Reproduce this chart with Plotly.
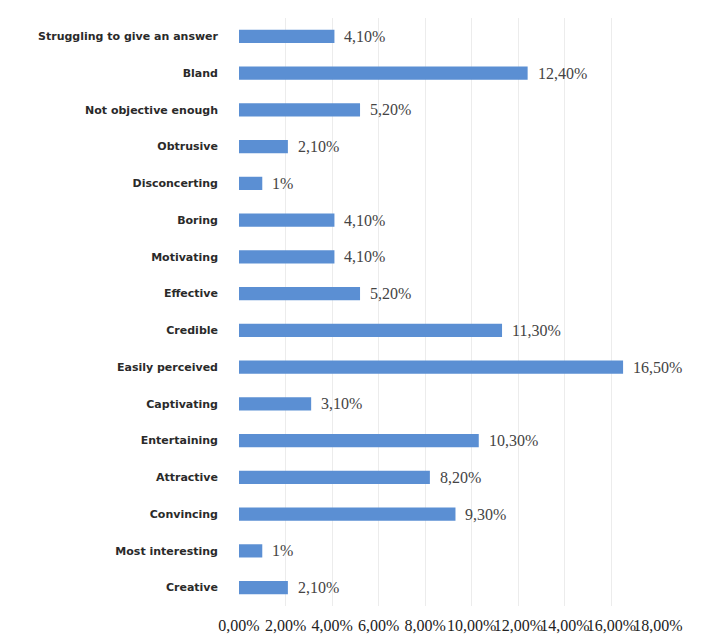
import plotly.graph_objects as go

categories = ["Struggling to give an answer", "Bland", "Not objective enough", "Obtrusive",
              "Disconcerting", "Boring", "Motivating", "Effective", "Credible",
              "Easily perceived", "Captivating", "Entertaining", "Attractive",
              "Convincing", "Most interesting", "Creative"]
values = [4.1, 12.4, 5.2, 2.1, 1.0, 4.1, 4.1, 5.2, 11.3, 16.5, 3.1, 10.3, 8.2, 9.3, 1.0, 2.1]
value_labels = ["4,10%", "12,40%", "5,20%", "2,10%", "1%", "4,10%", "4,10%", "5,20%",
                "11,30%", "16,50%", "3,10%", "10,30%", "8,20%", "9,30%", "1%", "2,10%"]
tick_vals = [0, 2, 4, 6, 8, 10, 12, 14, 16, 18]
tick_labels = ["0,00%", "2,00%", "4,00%", "6,00%", "8,00%", "10,00%", "12,00%",
               "14,00%", "16,00%", "18,00%"]

fig = go.Figure(go.Bar(
    x=values, y=categories, orientation="h",
    marker=dict(color="#5b8fd3", line=dict(width=0)),
    width=0.36,
))

for v, c, t in zip(values, categories, value_labels):
    fig.add_annotation(x=v, y=c, text=t, showarrow=False, xanchor="left", xshift=8,
                       font=dict(family="Liberation Serif", size=16, color="#444444"))

fig.update_layout(
    width=709, height=634,
    margin=dict(l=239, r=51, t=18, b=28),
    plot_bgcolor="white", paper_bgcolor="white",
    showlegend=False,
)
fig.update_xaxes(range=[0, 18], tickvals=tick_vals, ticktext=tick_labels,
                 showgrid=True, gridcolor="#ececec", gridwidth=1, zeroline=False,
                 showline=False, ticks="", ticklabelstandoff=8, tickangle=0,
                 automargin=False,
                 tickfont=dict(family="Liberation Serif", size=16, color="#222222"))
fig.update_yaxes(autorange="reversed", showgrid=False, showline=False, ticks="",
                 ticklabelstandoff=20, automargin=False,
                 tickfont=dict(family="DejaVu Sans", size=11, color="#2a2a2a", weight="bold"))

fig.write_html("out.html", config={"displayModeBar": False},
               post_script="document.body.style.margin='0px';")
